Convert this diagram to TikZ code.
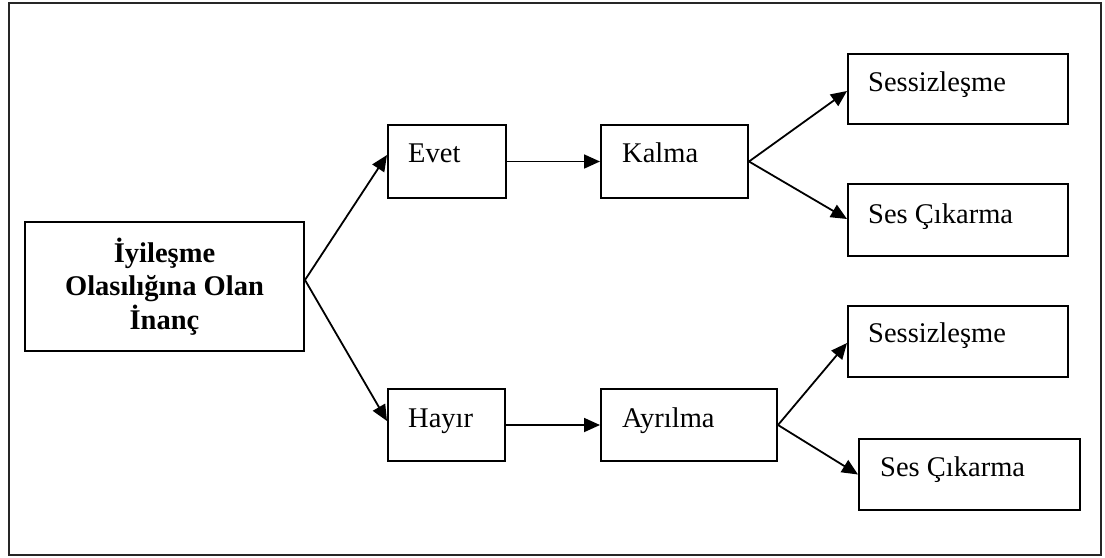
\documentclass[tikz,border=0pt]{standalone}
\usepackage{fontspec}
\setmainfont{Liberation Serif}
\usetikzlibrary{arrows.meta,calc}

\tikzset{
  box/.style={draw=black, line width=2pt, rectangle, inner sep=0pt, anchor=north west},
  lbl/.style={anchor=base west, inner sep=0pt, font=\fontsize{28.5}{33.5}\selectfont},
  conn/.style={line width=1.8pt, -{Triangle[length=16pt,width=14pt]}},
  frame/.style={draw=black!85, line width=2pt}
}

\begin{document}
\begin{tikzpicture}[x=1pt,y=-1pt]
  \useasboundingbox (0,0) rectangle (1105,557);
  \draw[frame] (9,3) rectangle (1101,555);

  % root box
  \node[box, minimum width=279pt, minimum height=129pt, align=center,
        font=\fontsize{28.5}{33.5}\selectfont\bfseries] (root) at (24,221)
        {İyileşme\\Olasılığına Olan\\İnanç};

  % first column
  \node[box, minimum width=118pt, minimum height=73pt] (evet) at (387,124) {};
  \node[lbl] (tevet) at (408,162.7) {Evet};
  \node[box, minimum width=117pt, minimum height=72pt] (hayir) at (387,388) {};
  \node[lbl] (thayir) at (408,427) {Hayır};

  % second column
  \node[box, minimum width=147pt, minimum height=73pt] (kalma) at (600,124) {};
  \node[lbl] (tkalma) at (622,162.7) {Kalma};
  \node[box, minimum width=176pt, minimum height=72pt] (ayrilma) at (600,388) {};
  \node[lbl] (tayrilma) at (622,427) {Ayrılma};

  % outcomes
  \node[box, minimum width=220pt, minimum height=70pt] (sesA) at (847,53) {};
  \node[lbl] (tsesA) at (868,91.7) {Sessizleşme};
  \node[box, minimum width=220pt, minimum height=72pt] (cikA) at (847,183) {};
  \node[lbl] (tcikA) at (868,223.3) {Ses Çıkarma};
  \node[box, minimum width=220pt, minimum height=71pt] (sesB) at (847,305) {};
  \node[lbl] (tsesB) at (868,342.7) {Sessizleşme};
  \node[box, minimum width=221pt, minimum height=71pt] (cikB) at (858,438) {};
  \node[lbl] (tcikB) at (880,476.7) {Ses Çıkarma};

  % connectors
  \coordinate (fork) at ([yshift=6.5pt]root.east);
  \draw[conn] (fork) -- ([yshift=6.5pt]evet.west);
  \draw[conn] (fork) -- ([yshift=4pt]hayir.west);
  \draw[conn] (evet.east) -- (kalma.west);
  \draw[conn] (hayir.east) -- (ayrilma.west);
  \draw[conn] (kalma.east) -- ([yshift=-2pt]sesA.west);
  \draw[conn] (kalma.east) -- ([yshift=1pt]cikA.west);
  \draw[conn] (ayrilma.east) -- ([yshift=-1.5pt]sesB.west);
  \draw[conn] (ayrilma.east) -- (cikB.west);
\end{tikzpicture}
\end{document}
